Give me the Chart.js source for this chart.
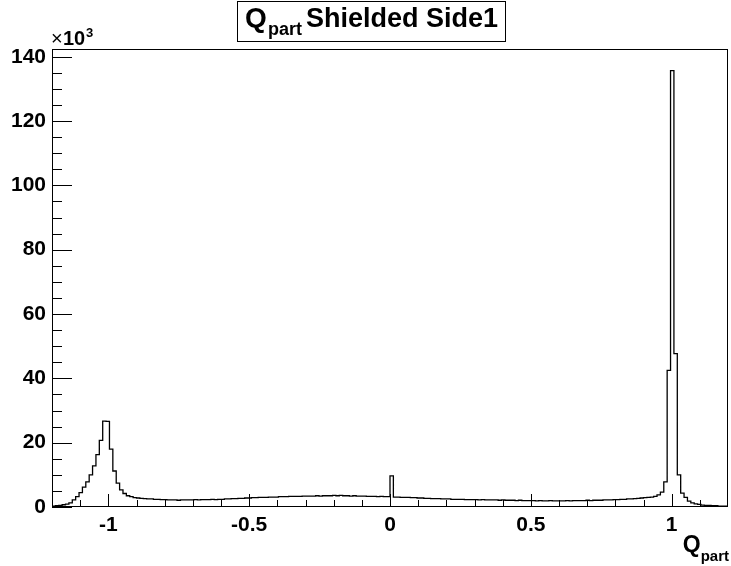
<!DOCTYPE html>
<html>
<head>
<meta charset="utf-8">
<script src="https://cdn.jsdelivr.net/npm/chart.js@4.4.1/dist/chart.umd.min.js"></script>
<style>
  html, body { margin: 0; padding: 0; background: #fff; }
  canvas { display: block; }
</style>
</head>
<body>
<canvas id="myChart" width="731" height="566"></canvas>
<script>
// histogram binning (200 bins from -1.2 to 1.2)
const xMin = -1.2;
const xMax = 1.2;
const binWidth = 0.012;
const yMax = 142.4;

// bin contents, in units of 10^3 entries
const counts = [
  0.3, 0.4, 0.5, 0.7, 0.9, 1.3, 2.2, 3.2, 4.5, 6.2,
  7.8, 10.0, 12.8, 16.3, 20.7, 26.7, 26.6, 18.0, 11.2, 7.4,
  5.3, 4.2, 3.5, 3.2, 2.9, 2.8, 2.7, 2.6, 2.5, 2.5,
  2.4, 2.4, 2.3, 2.3, 2.2, 2.2, 2.2, 2.1, 2.2, 2.2,
  2.2, 2.2, 2.3, 2.2, 2.3, 2.3, 2.3, 2.4, 2.3, 2.4,
  2.4, 2.5, 2.5, 2.6, 2.6, 2.7, 2.7, 2.8, 2.8, 2.9,
  2.9, 3.0, 3.0, 3.0, 3.1, 3.1, 3.1, 3.2, 3.2, 3.2,
  3.3, 3.3, 3.3, 3.3, 3.4, 3.4, 3.4, 3.4, 3.5, 3.4,
  3.5, 3.5, 3.5, 3.6, 3.5, 3.6, 3.5, 3.5, 3.4, 3.5,
  3.4, 3.4, 3.4, 3.3, 3.3, 3.3, 3.2, 3.3, 3.2, 3.2,
  9.7, 3.1, 3.1, 3.0, 3.0, 3.0, 2.9, 2.9, 2.8, 2.8,
  2.7, 2.7, 2.6, 2.6, 2.6, 2.5, 2.5, 2.5, 2.4, 2.4,
  2.4, 2.4, 2.3, 2.3, 2.3, 2.3, 2.2, 2.3, 2.2, 2.2,
  2.2, 2.2, 2.1, 2.2, 2.1, 2.1, 2.1, 2.0, 2.1, 2.0,
  2.0, 2.0, 2.0, 1.9, 2.0, 1.9, 1.9, 2.0, 1.9, 1.9,
  1.9, 1.9, 2.0, 1.9, 2.0, 2.0, 2.0, 2.0, 2.1, 2.0,
  2.1, 2.1, 2.1, 2.2, 2.2, 2.2, 2.3, 2.3, 2.4, 2.4,
  2.5, 2.5, 2.6, 2.7, 2.8, 2.9, 3.0, 3.1, 3.3, 3.8,
  4.6, 7.8, 42.5, 135.7, 47.7, 10.0, 4.3, 3.0, 1.8, 1.3,
  1.0, 0.8, 0.6, 0.5, 0.5, 0.4, 0.4, 0.3, 0.3, 0.3
];

// axis ticks
const xTicks = [-1, -0.5, 0, 0.5, 1];
const xTickLabels = ['-1', '-0.5', '0', '0.5', '1'];
const yTicks = [0, 20, 40, 60, 80, 100, 120, 140];
const yTickLabels = ['0', '20', '40', '60', '80', '100', '120', '140'];

const FONT = "'Liberation Sans', Arial, Helvetica, sans-serif";

// step outline: one point per left bin edge, plus the last right edge
const points = counts.map((c, i) => ({ x: xMin + i * binWidth, y: c }));
points.push({ x: xMax, y: counts[counts.length - 1] });

// frame, inside ticks and the ROOT style texts
const rootDecor = {
  id: 'rootDecor',
  afterDraw(chart) {
    const ctx = chart.ctx;
    const { left, right, top, bottom } = chart.chartArea;
    const xs = chart.scales.x, ys = chart.scales.y;
    ctx.save();
    ctx.strokeStyle = '#000';
    ctx.lineWidth = 1;

    // frame
    ctx.strokeRect(Math.round(left) + 0.5, Math.round(top) + 0.5,
      Math.round(right - left) - 1, Math.round(bottom - top) - 1);

    ctx.beginPath();
    // y ticks: major every 20, minor every 5
    for (let v = 0; v <= yMax; v += 5) {
      const py = Math.round(ys.getPixelForValue(v)) + 0.5;
      const len = (v % 20 === 0) ? 20 : 10;
      ctx.moveTo(left, py);
      ctx.lineTo(left + len, py);
    }
    // x ticks: major every 0.5, minor every 0.1
    for (let k = -11; k <= 11; k++) {
      const v = k / 10;
      const px = Math.round(xs.getPixelForValue(v)) + 0.5;
      const len = (k % 5 === 0) ? 13 : 7;
      ctx.moveTo(px, bottom);
      ctx.lineTo(px, bottom - len);
    }
    ctx.stroke();

    ctx.textBaseline = 'alphabetic';
    ctx.textAlign = 'left';

    // title box
    ctx.fillStyle = '#fff';
    ctx.fillRect(237, 1, 269, 41);
    ctx.strokeRect(237.5, 1.5, 268, 40);
    ctx.fillStyle = '#000';
    ctx.font = 'bold 28px ' + FONT;
    ctx.fillText('Q', 245, 27);
    ctx.font = 'bold 18px ' + FONT;
    ctx.fillText('part', 268, 35);
    ctx.font = 'bold 27px ' + FONT;
    ctx.fillText('Shielded Side1', 306, 27);

    // exponent label of y axis
    ctx.font = '20px ' + FONT;
    ctx.fillText('\u00d7', 51, 45);
    ctx.font = 'bold 20px ' + FONT;
    ctx.fillText('10', 63, 45);
    ctx.font = 'bold 13px ' + FONT;
    ctx.fillText('3', 86, 37);

    // x axis title
    ctx.textAlign = 'right';
    ctx.font = 'bold 15px ' + FONT;
    ctx.fillText('part', 729, 561);
    const wPart = ctx.measureText('part').width;
    ctx.font = 'bold 23px ' + FONT;
    ctx.fillText('Q', 729 - wPart, 552);
    ctx.restore();
  }
};

const ctx = document.getElementById('myChart').getContext('2d');
const myChart = new Chart(ctx, {
  type: 'line',
  data: {
    datasets: [{
      label: 'Qpart Shielded Side1',
      data: points,
      stepped: true,
      borderColor: '#000',
      borderWidth: 1.3,
      pointRadius: 0,
      fill: false
    }]
  },
  options: {
    responsive: false,
    animation: false,
    events: [],
    layout: { padding: { top: 49, right: 3, left: 0, bottom: 0 } },
    plugins: {
      legend: { display: false },
      title: { display: false },
      tooltip: { enabled: false }
    },
    scales: {
      x: {
        type: 'linear',
        min: xMin,
        max: xMax,
        afterBuildTicks: (s) => { s.ticks = xTicks.map(v => ({ value: v })); },
        afterFit: (s) => { s.height = 59; },
        ticks: {
          autoSkip: false,
          maxRotation: 0,
          padding: 6,
          color: '#000',
          font: { family: FONT, size: 21, weight: 'bold' },
          callback: (v) => xTickLabels[xTicks.indexOf(v)]
        },
        grid: { display: false, drawTicks: false },
        border: { display: false }
      },
      y: {
        min: 0,
        max: yMax,
        afterBuildTicks: (s) => { s.ticks = yTicks.map(v => ({ value: v })); },
        afterFit: (s) => { s.width = 52; },
        ticks: {
          autoSkip: false,
          padding: 6,
          color: '#000',
          font: { family: FONT, size: 21, weight: 'bold' },
          callback: (v) => yTickLabels[yTicks.indexOf(v)]
        },
        grid: { display: false, drawTicks: false },
        border: { display: false }
      }
    }
  },
  plugins: [rootDecor]
});
</script>
</body>
</html>
